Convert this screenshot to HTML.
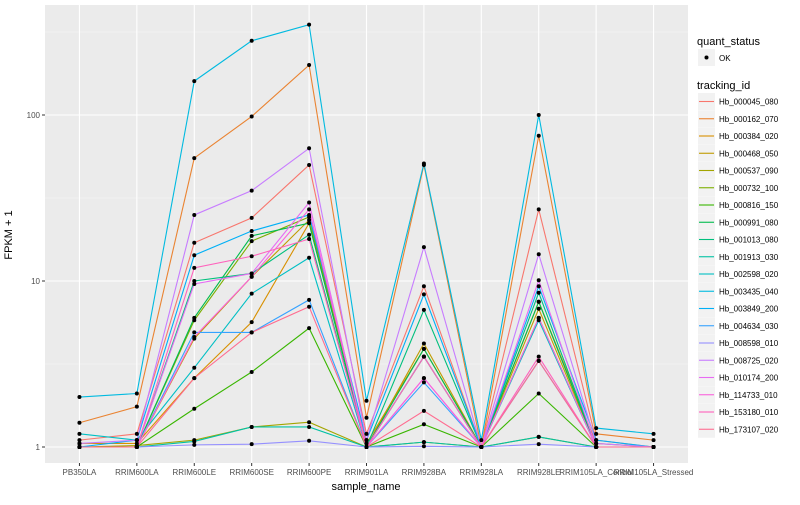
<!DOCTYPE html>
<html><head><meta charset="utf-8"><style>
body{margin:0;background:#fff;font-family:"Liberation Sans",sans-serif;}
svg text{font-family:"Liberation Sans",sans-serif;}
</style></head><body>
<svg id="chart" width="800" height="500" xmlns="http://www.w3.org/2000/svg">
<rect x="45" y="5" width="643" height="458" fill="#EBEBEB"/>
<g id="grid"></g><g id="lines"></g><g id="pts"></g><g id="axes"></g><g id="legend"></g>
<text x="12" y="235" transform="rotate(-90 12 235)" text-anchor="middle" font-size="11" fill="#000">FPKM + 1</text>
<text x="366" y="490" text-anchor="middle" font-size="11" fill="#000">sample_name</text>
</svg>
<script>
const categories=["PB350LA","RRIM600LA","RRIM600LE","RRIM600SE","RRIM600PE","RRIM901LA","RRIM928BA","RRIM928LA","RRIM928LE","RRIM105LA_Control","RRIM105LA_Stressed"];
const seriesNames=["Hb_000045_080","Hb_000162_070","Hb_000384_020","Hb_000468_050","Hb_000537_090","Hb_000732_100","Hb_000816_150","Hb_000991_080","Hb_001013_080","Hb_001913_030","Hb_002598_020","Hb_003435_040","Hb_003849_200","Hb_004634_030","Hb_008598_010","Hb_008725_020","Hb_010174_200","Hb_114733_010","Hb_153180_010","Hb_173107_020"];
const colors=["#F8766D","#EA8331","#D89000","#C09B00","#A3A500","#7CAE00","#39B600","#00BB4E","#00BF7D","#00C1A3","#00BFC4","#00BAE0","#00B0F6","#35A2FF","#9590FF","#C77CFF","#E76BF3","#FA62DB","#FF62BC","#FF6C90"];
const s01=[1.1,1.2,17,24,50,1.2,9.3,1,27,1.1,1.0];
const s02=[1.4,1.75,55,98,200,1.5,50,1,75,1.2,1.1];
const s03=[1.05,1.05,2.6,5.65,22.3,1.05,3.9,1,7.5,1.05,1.0];
const s04=[1.0,1.0,4.5,10.6,23.3,1.0,4.2,1,6.8,1.0,1.0];
const s05=[1.0,1.02,1.1,1.32,1.41,1.0,1.07,1,1.15,1.0,1.0];
const s06=[1.0,1.0,5.8,17.4,24.3,1.0,3.5,1,6.0,1.0,1.0];
const s07=[1.0,1.0,1.7,2.83,5.2,1.0,1.37,1,2.1,1.0,1.0];
const s08=[1.0,1.0,6.0,18.7,22.3,1.0,3.9,1,7.5,1,1];
const s09=[1.0,1.0,10,11.1,19,1.0,6.7,1,8.5,1,1];
const s10=[1.0,1.0,1.08,1.32,1.32,1.0,1.07,1,1.15,1,1];
const s11=[1.2,1.1,3.0,8.4,13.8,1.0,3.5,1,5.8,1,1];
const s12=[2.0,2.1,160,280,350,1.9,51,1.1,100,1.3,1.2];
const s13=[1.0,1.1,14.3,20,25,1.1,8.3,1,9.3,1.1,1];
const s14=[1.0,1.0,4.9,4.9,7.7,1.0,2.45,1,3.3,1,1];
const s15=[1.0,1.0,1.03,1.04,1.09,1.0,1.01,1,1.04,1,1];
const s16=[1.05,1.1,25,35,63,1.1,16,1,14.5,1.05,1];
const s17=[1.0,1.0,9.6,11.1,29.7,1.0,2.6,1,10.1,1,1];
const s18=[1.0,1.0,4.6,10.6,27,1.0,2.6,1,6.0,1,1];
const s19=[1.0,1.0,12,14.1,17.9,1.0,3.5,1,3.5,1,1];
const s20=[1.0,1.0,2.6,4.9,7.0,1.0,1.65,1,3.3,1,1];
const series=[s01,s02,s03,s04,s05,s06,s07,s08,s09,s10,s11,s12,s13,s14,s15,s16,s17,s18,s19,s20];
const yTicks=[1,10,100];
const yTickLabels=["1","10","100"];

const NS="http://www.w3.org/2000/svg";
const PX0=45,PX1=688,PY0=5,PY1=463;
const step=(PX1-PX0)/(categories.length-1+1.2);
function xScale(i){return PX0+step*(0.6+i);}
function yScale(v){return 447-166*Math.log10(v);}
function mk(tag,attrs,parent){const e=document.createElementNS(NS,tag);for(const k in attrs)e.setAttribute(k,attrs[k]);parent.appendChild(e);return e;}
const grid=document.getElementById('grid'),lines=document.getElementById('lines'),pts=document.getElementById('pts'),axes=document.getElementById('axes'),legend=document.getElementById('legend');
yTicks.forEach(t=>{const y=yScale(t*Math.sqrt(10));if(y>PY0){const l=mk('line',{x1:PX0,x2:PX1,y1:y,y2:y,stroke:'#F5F5F5','stroke-width':0.6},grid);

}});
yTicks.forEach((t,i)=>{const y=yScale(t);const l=mk('line',{x1:PX0,x2:PX1,y1:y,y2:y,stroke:'#fff','stroke-width':1.1},grid);


const tx=mk('text',{x:40,y:y+3,'text-anchor':'end','font-size':8,fill:'#4D4D4D'},axes);tx.textContent=yTickLabels[i];


const tk=mk('line',{x1:42,x2:45,y1:y,y2:y,stroke:'#333','stroke-width':1},axes);

});
categories.forEach((c,i)=>{const x=xScale(i);const l=mk('line',{x1:x,x2:x,y1:PY0,y2:PY1,stroke:'#fff','stroke-width':1.1},grid);


const tk=mk('line',{x1:x,x2:x,y1:PY1,y2:PY1+3,stroke:'#333','stroke-width':1},axes);


const tx=mk('text',{x:x,y:PY1+12,'text-anchor':'middle','font-size':8,fill:'#4D4D4D'},axes);tx.textContent=c;

});
series.forEach((s,k)=>{const p=mk('polyline',{points:s.map((v,i)=>xScale(i)+','+yScale(v)).join(' '),fill:'none',stroke:colors[k],'stroke-width':1.1},lines);


s.forEach((v,i)=>{const c=mk('circle',{cx:xScale(i),cy:yScale(v),r:2,fill:'#000'},pts);

});});
let t=mk('text',{x:697,y:45,'font-size':11,fill:'#000'},legend);t.textContent='quant_status';


let r=mk('rect',{x:698,y:49,width:17,height:17,fill:'#F2F2F2'},legend);


let c=mk('circle',{cx:706.5,cy:57.5,r:2,fill:'#000'},legend);


t=mk('text',{x:719,y:61,'font-size':8,fill:'#000'},legend);t.textContent='OK';


t=mk('text',{x:697,y:89,'font-size':11,fill:'#000'},legend);t.textContent='tracking_id';


seriesNames.forEach((n,k)=>{const y=93+k*17.25;
const g=mk('g',{},legend);


mk('rect',{x:698,y:y,width:17,height:17,fill:'#F2F2F2'},g);
mk('line',{x1:699,x2:714,y1:y+8.5,y2:y+8.5,stroke:colors[k],'stroke-width':1.1},g);
const tx=mk('text',{x:719,y:y+11.5,'font-size':8,fill:'#000'},g);tx.textContent=n;});
</script>
</body></html>
